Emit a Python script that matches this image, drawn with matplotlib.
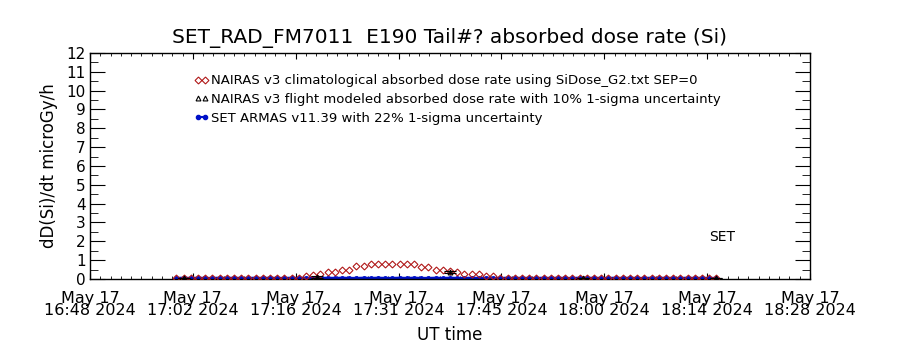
import matplotlib
matplotlib.use("Agg")
import matplotlib.pyplot as plt
import matplotlib.dates as mdates
from matplotlib.lines import Line2D
from matplotlib.ticker import FixedLocator, FixedFormatter, MultipleLocator, AutoMinorLocator
import pandas as pd

# time axis: one point per minute, 17:00 -> 18:15 UT on 2024-05-17
t0 = "2024-05-17 17:00"
t1 = "2024-05-17 18:15"
times = pd.date_range(t0, t1, freq="1min")

# NAIRAS v3 climatological (red diamonds)
nairas_clim = [0.07] * 17 + [
    0.07, 0.16, 0.21, 0.26, 0.35, 0.35, 0.50, 0.50, 0.68, 0.68,
    0.82, 0.82, 0.82, 0.77, 0.77, 0.77, 0.77, 0.61, 0.61, 0.50,
    0.50, 0.42, 0.35, 0.26, 0.26, 0.26, 0.16, 0.16, 0.07,
] + [0.07] * 30

# SET ARMAS (blue), flat near zero
armas = [0.04, 0.05, 0.04, 0.05, 0.04, 0.04, 0.05, 0.04, 0.05, 0.04,
         0.04, 0.05, 0.04, 0.05, 0.04, 0.04, 0.05, 0.04, 0.05, 0.04,
         0.04, 0.05, 0.04, 0.05, 0.04, 0.04, 0.05, 0.04, 0.05, 0.04,
         0.04, 0.05, 0.04, 0.05, 0.04, 0.04, 0.05, 0.04, 0.05, 0.04,
         0.04, 0.05, 0.04, 0.05, 0.04, 0.04, 0.05, 0.04, 0.05, 0.04,
         0.04, 0.05, 0.04, 0.05, 0.04, 0.04, 0.05, 0.04, 0.05, 0.04,
         0.04, 0.05, 0.04, 0.05, 0.04, 0.04, 0.05, 0.04, 0.05, 0.04,
         0.04, 0.05, 0.04, 0.05, 0.04, 0.04]

# NAIRAS v3 flight modeled (black triangles) + error
flight_times = pd.to_datetime(["2024-05-17 17:01:00", "2024-05-17 17:19:30",
                               "2024-05-17 17:38:00", "2024-05-17 17:56:30",
                               "2024-05-17 18:15:00"])
flight_vals = [0.05, 0.12, 0.38, 0.05, 0.05]
flight_err = [0.01, 0.05, 0.06, 0.01, 0.01]

labels = ["NAIRAS v3 climatological absorbed dose rate using SiDose_G2.txt SEP=0",
          "NAIRAS v3 flight modeled absorbed dose rate with 10% 1-sigma uncertainty",
          "SET ARMAS v11.39 with 22% 1-sigma uncertainty"]

xlim = (pd.Timestamp("2024-05-17 16:48"), pd.Timestamp("2024-05-17 18:28"))
tick_labels = ["May 17\n16:48 2024", "May 17\n17:02 2024", "May 17\n17:16 2024",
               "May 17\n17:31 2024", "May 17\n17:45 2024", "May 17\n18:00 2024",
               "May 17\n18:14 2024", "May 17\n18:28 2024"]

red = "#b01818"
blue = "#0010c8"

fig = plt.figure(figsize=(9, 3.5), dpi=100)
ax = fig.add_axes([0.1, 0.2029, 0.8, 0.6457])

ax.plot(times, armas, color=blue, lw=2, marker="o", ms=2.5, zorder=2)
ax.plot(times, nairas_clim, ls="none", marker="D", ms=3.5, mfc="none",
        mec=red, mew=0.8, zorder=3)
ax.errorbar(flight_times, flight_vals, yerr=flight_err, fmt="^", ms=3.5,
            mfc="none", mec="black", mew=0.8, ecolor="black", elinewidth=0.8,
            capsize=4, capthick=1.0, zorder=4)

ax.text(pd.Timestamp("2024-05-17 18:14"), 2.0, "SET", fontsize=10)

ax.set_xlim(xlim)
ax.set_ylim(0, 12)
ticks = mdates.date2num(pd.date_range(xlim[0], xlim[1], periods=8))
ax.xaxis.set_major_locator(FixedLocator(ticks))
ax.xaxis.set_major_formatter(FixedFormatter(tick_labels))
ax.xaxis.set_minor_locator(AutoMinorLocator(10))
ax.yaxis.set_major_locator(MultipleLocator(1))
ax.yaxis.set_minor_locator(MultipleLocator(0.5))
ax.tick_params(axis="x", which="both", direction="in", top=True, bottom=True)
ax.tick_params(axis="x", which="major", length=4, labelsize=11.5, pad=9)
ax.tick_params(axis="x", which="minor", length=2.2)
ax.tick_params(axis="y", which="both", direction="in", left=True, right=True)
ax.tick_params(axis="y", which="major", length=10.5, labelsize=11, pad=3)
ax.tick_params(axis="y", which="minor", length=5.5)
for lab in ax.get_xticklabels():
    lab.set_linespacing(0.72)
for s in ax.spines.values():
    s.set_linewidth(1)

ax.set_xlabel("UT time", fontsize=12, labelpad=6)
ax.set_ylabel("dD(Si)/dt microGy/h", fontsize=12, labelpad=6)
ax.set_title("SET_RAD_FM7011  E190 Tail#? absorbed dose rate (Si)", fontsize=14.5, pad=7)

# legend handles drawn like the IDL ones (two symbols, no error bar)
handles = [
    Line2D([], [], ls="none", marker="D", ms=3.5, mfc="none", mec=red, mew=0.8),
    Line2D([], [], ls="none", marker="^", ms=3.5, mfc="none", mec="black", mew=0.8),
    Line2D([], [], color=blue, lw=1.5, marker="o", ms=3),
]
ax.legend(handles, labels, loc="upper left",
          bbox_to_anchor=(0.145, 0.905), frameon=False, fontsize=9.5,
          numpoints=2, handlelength=1.1, handletextpad=0.15,
          labelspacing=0.42, borderpad=0, borderaxespad=0)

fig.savefig("out.png", dpi=100)
